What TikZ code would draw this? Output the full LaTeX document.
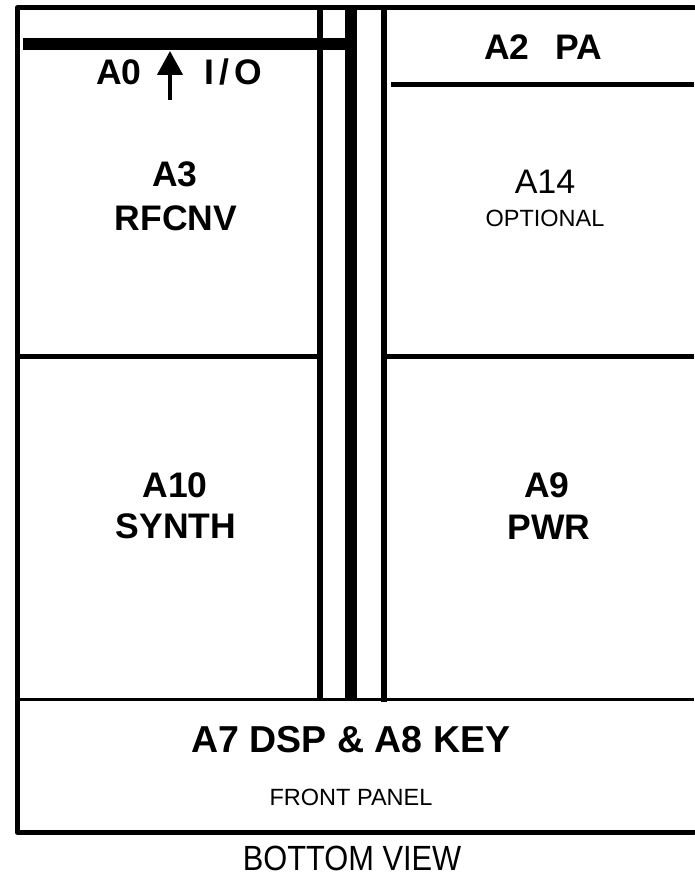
\documentclass[tikz,border=0pt]{standalone}
\usepackage{fontspec}
\setmainfont{Liberation Sans}
\usetikzlibrary{arrows.meta}
\tikzset{
  frame/.style={line width=5pt, line join=round, line cap=round},
  bus/.style={line width=12pt},
  thinbar/.style={line width=5.5pt},
  sep/.style={line width=5pt},
  thinsep/.style={line width=3pt},
  bold label/.style={anchor=base, inner sep=0pt, font=\bfseries\fontsize{35.5}{42}\selectfont},
  big label/.style={anchor=base, inner sep=0pt, font=\fontsize{34}{40}\selectfont},
  small label/.style={anchor=base, inner sep=0pt, font=\fontsize{23.5}{28}\selectfont},
}
\begin{document}
\begin{tikzpicture}[x=1pt, y=-1pt]
\useasboundingbox (0,0) rectangle (694,877);
% outer frame (open on the right)
\draw[frame] (694,8) -- (17,8) -- (17,832) -- (694,832);
% A0 bus bar
\draw[bus] (23,44) -- (351,44);
% vertical bars
\draw[thinbar] (320,8) -- (320,699);
\draw[bus] (351,8) -- (351,699);
\draw[thinbar] (384,8) -- (384,702);
% A2 separator
\draw[sep] (391,84.5) -- (694,84.5);
% middle separators
\draw[sep] (17,356) -- (317,356);
\draw[sep] (387,356) -- (694,356);
% front panel separator
\draw[thinsep] (17,699) -- (694,699);
% A0 arrow
\coordinate (arrowtail) at (170,100);
\coordinate (arrowhead) at (170,51);
\draw[line width=4.5pt, -{Triangle[width=25pt,length=24pt]}] (arrowtail) -- (arrowhead);
% labels
\node[bold label] (a0) at (119,85) {A0};
\node[bold label] (io) at (233,85) {I\kern5pt/\kern5pt O};
\node[bold label] (a2) at (543,60) {A2\ \ \,PA};
\node[bold label] (a3) at (175,187) {A3};
\node[bold label] (rfcnv) at (176,230) {RFCNV};
\node[big label] (a14) at (545,194) {A14};
\node[small label] (opt) at (545,227) {OPTIONAL};
\node[bold label] (a10) at (175,497) {A10};
\node[bold label] (synth) at (176,538) {SYNTH};
\node[bold label] (a9) at (547,497) {A9};
\node[bold label] (pwr) at (549,539) {PWR};
\node[anchor=base, inner sep=0pt, font=\bfseries\fontsize{37.5}{44}\selectfont] (a7) at (351,752) {A7 DSP \& A8 KEY};
\node[small label] (fp) at (351,805) {FRONT PANEL};
\node[anchor=base, inner sep=0pt, font=\fontsize{35}{42}\selectfont] (bv) at (352,870) {\scalebox{0.88}[1]{BOTTOM VIEW}};
\end{tikzpicture}
\end{document}
